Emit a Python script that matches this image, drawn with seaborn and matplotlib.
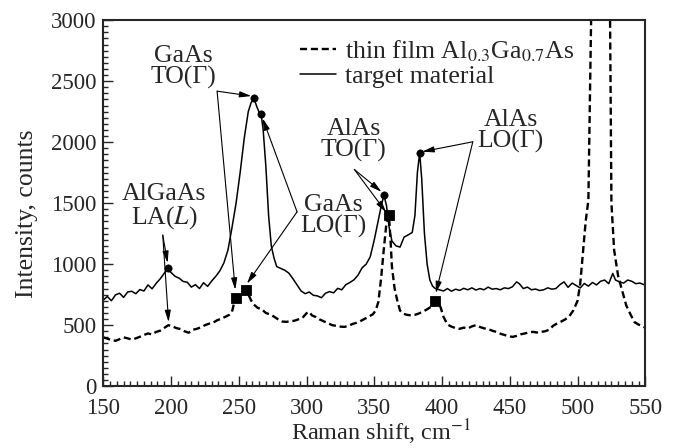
import numpy as np
import pandas as pd
import seaborn as sns
import matplotlib.pyplot as plt
from matplotlib.ticker import MultipleLocator

# Raman spectra, (shift, counts)
film_pts = [
    (150, 400), (153, 390), (156, 378), (159, 372), (162, 385), (165, 400), (168, 392),
    (171, 382), (174, 392), (177, 405), (180, 420), (183, 432), (186, 424), (189, 445),
    (192, 455), (195, 478), (198, 500), (201, 490), (204, 476), (207, 468), (210, 450),
    (213, 438), (216, 462), (219, 470), (222, 482), (225, 500), (228, 512), (231, 520),
    (234, 540), (237, 553), (240, 568), (243, 585), (245, 610), (246.5, 680), (247.8, 719),
    (250, 745), (252, 765), (253.5, 778), (255.1, 787), (257, 755), (259, 705), (261, 670),
    (264, 642), (267, 630), (270, 600), (273, 588), (276, 570), (279, 548), (282, 530),
    (285, 527), (288, 532), (291, 536), (294, 548), (297, 560), (300, 598), (302, 609),
    (304, 580), (307, 566), (310, 545), (313, 530), (316, 515), (319, 500), (322, 494),
    (325, 488), (328, 486), (331, 495), (334, 510), (337, 520), (340, 535), (343, 552),
    (346, 570), (349, 590), (351, 620), (353, 690), (355, 880), (357, 1120), (359, 1340),
    (360.8, 1402), (362, 1200), (363, 980), (365, 800), (367, 700), (369, 620), (371, 595),
    (374, 585), (377, 580), (380, 585), (383, 596), (386, 612), (389, 630), (392, 652),
    (395, 699), (397, 690), (399, 645), (401, 570), (404, 505), (407, 488), (410, 476),
    (413, 470), (416, 480), (419, 473), (422, 490), (425, 500), (428, 485), (431, 474),
    (434, 468), (437, 455), (440, 445), (443, 430), (446, 420), (449, 410), (452, 404),
    (455, 412), (458, 425), (461, 432), (464, 440), (467, 445), (470, 440), (473, 445),
    (476, 450), (479, 462), (482, 495), (485, 515), (488, 530), (491, 548), (494, 575),
    (497, 623), (500, 700), (502, 842), (504, 1100), (506, 1350), (508, 1525), (510, 3000),
    (511, 5000), (517, 12000), (523, 5000), (524, 3000), (525, 1500), (527, 1115),
    (530, 900), (533, 780), (536, 660), (539, 590), (542, 525), (545, 505), (548, 490),
    (550, 480),
]
target_pts = [
    (150, 705), (153, 735), (156, 700), (159, 748), (162, 762), (165, 728), (168, 772),
    (171, 778), (174, 758), (177, 792), (180, 780), (183, 830), (186, 798), (189, 842),
    (192, 880), (195, 925), (197.6, 965), (200, 932), (203, 900), (206, 885), (209, 858),
    (212, 852), (215, 812), (218, 832), (221, 800), (224, 848), (227, 818), (230, 862),
    (233, 900), (236, 945), (239, 1010), (242, 1115), (245, 1300), (248, 1500), (251, 1750),
    (254, 2030), (257, 2250), (259, 2320), (261.2, 2363), (263, 2300), (265, 2245),
    (266.5, 2228), (268, 2100), (270, 1800), (272, 1400), (274, 1150), (276, 1050),
    (278, 980), (281, 965), (284, 950), (287, 926), (290, 880), (293, 830), (296, 780),
    (299, 758), (302, 772), (305, 745), (308, 740), (311, 725), (314, 762), (317, 775),
    (320, 765), (323, 802), (326, 790), (329, 832), (332, 850), (335, 872), (338, 910),
    (341, 970), (344, 1000), (347, 1060), (350, 1200), (353, 1360), (355, 1470),
    (357.1, 1566), (359, 1480), (361, 1300), (363, 1190), (366, 1150), (369, 1140),
    (372, 1222), (375, 1240), (378, 1260), (380, 1400), (381.8, 1750), (383.5, 1913),
    (385, 1700), (387, 1252), (389, 1000), (391, 870), (393, 820), (395, 800), (398, 790),
    (401, 780), (404, 800), (407, 778), (410, 795), (413, 785), (416, 802), (419, 790),
    (422, 806), (425, 788), (428, 800), (431, 790), (434, 812), (437, 795), (440, 800),
    (443, 790), (446, 806), (449, 800), (452, 815), (455, 855), (457, 840), (460, 800),
    (463, 812), (466, 790), (469, 796), (472, 784), (475, 790), (478, 806), (481, 795),
    (484, 800), (487, 832), (490, 855), (493, 810), (496, 845), (499, 825), (502, 805),
    (505, 842), (508, 820), (511, 850), (514, 830), (517, 860), (520, 870), (523, 840),
    (526, 924), (528, 870), (531, 855), (534, 845), (537, 870), (540, 860), (543, 840),
    (546, 845), (550, 828),
]
film_x, film_y = zip(*film_pts)
target_x, target_y = zip(*target_pts)

# peak markers
dot_x = [197.6, 261.2, 266.5, 357.1, 383.5]
dot_y = [965, 2363, 2228, 1566, 1913]
sq_x = [247.8, 255.1, 360.8, 395]
sq_y = [719, 787, 1402, 699]

# labels: (text, text x, text y, arrow start, [arrow ends])
labels = [
    ("GaAs\nTO(Γ)", 209, 2615, (234, 2418), [(259.3, 2378), (247.4, 790)]),
    ("GaAs\nLO(Γ)", 320, 1393, (293, 1429), [(267.6, 2195), (256, 840)]),
    ("AlGaAs\nLA($L$)", 195, 1467, (193.9, 1238), [(197.5, 1010), (198.2, 525)]),
    ("AlAs\nTO(Γ)", 334.6, 2016, (335.3, 1776), [(355.4, 1592), (358.8, 1425)]),
    ("AlAs\nLO(Γ)", 450.5, 2090, (422.7, 2003), [(385.4, 1922), (395.4, 762)]),
]

FS = 18.5
TICK_FS = 16.5

sns.set_style("ticks")
plt.rcParams["font.family"] = ["Liberation Serif", "DejaVu Serif"]
plt.rcParams["mathtext.fontset"] = "stix"

fig, ax = plt.subplots(figsize=(6.75, 4.48), dpi=100)
fig.subplots_adjust(left=0.153, right=0.956, bottom=0.138, top=0.955)

sns.lineplot(x=list(film_x), y=list(film_y), ax=ax, color="k", lw=1.7,
             linestyle=(0, (3, 1.6)), label="thin film Al$_{0.3}$Ga$_{0.7}$As")
sns.lineplot(x=list(target_x), y=list(target_y), ax=ax, color="k", lw=1.1,
             label="target material")
sns.scatterplot(x=dot_x, y=dot_y, ax=ax, color="k", marker="o", s=28, edgecolor="k", zorder=5)
sns.scatterplot(x=sq_x, y=sq_y, ax=ax, color="k", marker="s", s=55, edgecolor="k", zorder=5)

for txt, tx, ty, start, ends in labels:
    ax.text(tx, ty, txt, ha="center", va="center", fontsize=FS, linespacing=0.95)
    for end in ends:
        ax.annotate("", xy=end, xytext=start,
                    arrowprops=dict(arrowstyle="-|>,head_length=0.7,head_width=0.18",
                                    color="k", lw=0.8, shrinkA=0, shrinkB=0))

ax.set_xlim(150, 550)
ax.set_ylim(0, 3000)
ax.xaxis.set_major_locator(MultipleLocator(50))
ax.xaxis.set_minor_locator(MultipleLocator(5))
ax.yaxis.set_major_locator(MultipleLocator(500))
ax.yaxis.set_minor_locator(MultipleLocator(50))
ax.tick_params(which="both", direction="in", top=False, right=False, labelsize=TICK_FS, width=1)
ax.tick_params(which="major", length=7)
ax.tick_params(which="minor", length=3.5)
ax.tick_params(axis="x", pad=8.5)
ax.tick_params(axis="y", pad=5)
for sp in ax.spines.values():
    sp.set_linewidth(1.5)

ax.set_xlabel("Raman shift, cm$^{-1}$", fontsize=17.5, va="bottom")
ax.set_ylabel("Intensity, counts", fontsize=FS)
ax.xaxis.set_label_coords(0.512, -0.167)
ax.yaxis.set_label_coords(-0.12, 0.47)

ax.legend(frameon=False, loc="upper left", bbox_to_anchor=(0.33, 1.0), fontsize=FS,
          handlelength=1.4, handletextpad=0.35, labelspacing=0.05, borderaxespad=0.3)

fig.savefig("out.png", dpi=100)
